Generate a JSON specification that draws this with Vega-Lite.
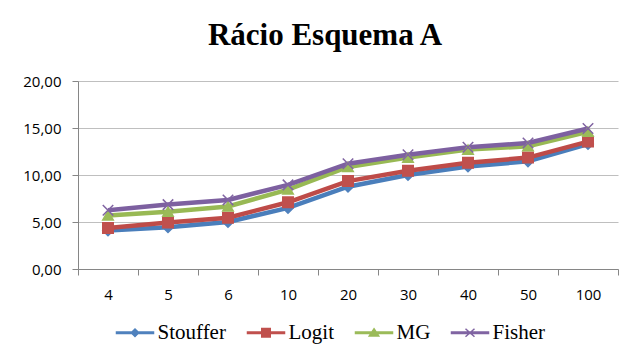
{
  "$schema": "https://vega.github.io/schema/vega-lite/v6.json",
  "width": 540,
  "height": 188,
  "autosize": {"type": "none"},
  "padding": {"left": 78, "top": 81, "right": 19, "bottom": 87},
  "background": "white",
  "config": {
    "view": {"stroke": null},
    "font": "Open Sans"
  },
  "title": {
    "text": "Rácio Esquema A",
    "font": "Liberation Serif",
    "fontSize": 31,
    "fontWeight": "bold",
    "color": "#000000",
    "anchor": "middle",
    "frame": "group",
    "dx": -23,
    "baseline": "alphabetic",
    "offset": -2
  },
  "data": {
    "values": [
      {"n": "4", "series": "Stouffer", "v": 4.1},
      {"n": "5", "series": "Stouffer", "v": 4.45},
      {"n": "6", "series": "Stouffer", "v": 5.0},
      {"n": "10", "series": "Stouffer", "v": 6.5},
      {"n": "20", "series": "Stouffer", "v": 8.75},
      {"n": "30", "series": "Stouffer", "v": 10.0},
      {"n": "40", "series": "Stouffer", "v": 10.9},
      {"n": "50", "series": "Stouffer", "v": 11.45},
      {"n": "100", "series": "Stouffer", "v": 13.3},
      {"n": "4", "series": "Logit", "v": 4.37},
      {"n": "5", "series": "Logit", "v": 4.95},
      {"n": "6", "series": "Logit", "v": 5.45},
      {"n": "10", "series": "Logit", "v": 7.1},
      {"n": "20", "series": "Logit", "v": 9.35},
      {"n": "30", "series": "Logit", "v": 10.45},
      {"n": "40", "series": "Logit", "v": 11.3},
      {"n": "50", "series": "Logit", "v": 11.85},
      {"n": "100", "series": "Logit", "v": 13.55},
      {"n": "4", "series": "MG", "v": 5.7},
      {"n": "5", "series": "MG", "v": 6.1},
      {"n": "6", "series": "MG", "v": 6.65},
      {"n": "10", "series": "MG", "v": 8.45},
      {"n": "20", "series": "MG", "v": 10.85},
      {"n": "30", "series": "MG", "v": 11.85},
      {"n": "40", "series": "MG", "v": 12.7},
      {"n": "50", "series": "MG", "v": 13.05},
      {"n": "100", "series": "MG", "v": 14.6},
      {"n": "4", "series": "Fisher", "v": 6.25},
      {"n": "5", "series": "Fisher", "v": 6.85},
      {"n": "6", "series": "Fisher", "v": 7.35},
      {"n": "10", "series": "Fisher", "v": 8.95},
      {"n": "20", "series": "Fisher", "v": 11.2},
      {"n": "30", "series": "Fisher", "v": 12.15},
      {"n": "40", "series": "Fisher", "v": 12.95},
      {"n": "50", "series": "Fisher", "v": 13.4},
      {"n": "100", "series": "Fisher", "v": 14.95}
    ]
  },
  "encoding": {
    "x": {
      "field": "n",
      "type": "ordinal",
      "sort": null,
      "scale": {"type": "band", "paddingInner": 0, "paddingOuter": 0},
      "axis": {
        "title": null,
        "labelAngle": 0,
        "tickBand": "extent",
        "domainColor": "#868686",
        "tickColor": "#868686",
        "tickSize": 6,
        "labelPadding": 12,
        "labelFont": "Open Sans",
        "labelFontSize": 15,
        "labelColor": "#000000",
        "grid": false
      }
    },
    "y": {
      "field": "v",
      "type": "quantitative",
      "scale": {"domain": [0, 20], "nice": false, "zero": true},
      "axis": {
        "title": null,
        "values": [0, 5, 10, 15, 20],
        "labelExpr": "replace(format(datum.value, '.2f'), '.', ',')",
        "domainColor": "#868686",
        "tickColor": "#868686",
        "tickSize": 6,
        "labelPadding": 11,
        "labelFont": "Open Sans",
        "labelFontSize": 15,
        "labelColor": "#000000",
        "gridColor": "#BFBFBF",
        "gridWidth": 1
      }
    }
  },
  "layer": [
    {
      "mark": {"type": "line", "strokeWidth": 4.5},
      "encoding": {
        "color": {
          "field": "series",
          "type": "nominal",
          "scale": {"domain": ["Stouffer", "Logit", "MG", "Fisher"], "range": ["#4A7EBB", "#BE4B48", "#98B954", "#7D60A0"]},
          "legend": null
        }
      }
    },
    {
      "mark": {"type": "point", "filled": true, "size": 110, "strokeWidth": 1.5, "opacity": 1},
      "encoding": {
        "fill": {
          "field": "series",
          "type": "nominal",
          "scale": {"domain": ["Stouffer", "Logit", "MG", "Fisher"], "range": ["#4F81BD", "#C0504D", "#9BBB59", "#8064A2"]},
          "legend": null
        },
        "stroke": {
          "field": "series",
          "type": "nominal",
          "scale": {"domain": ["Stouffer", "Logit", "MG", "Fisher"], "range": ["#4F81BD", "#C0504D", "#9BBB59", "#8064A2"]},
          "legend": null
        },
        "shape": {
          "field": "series",
          "type": "nominal",
          "scale": {"domain": ["Stouffer", "Logit", "MG", "Fisher"], "range": ["diamond", "square", "triangle-up", "M-1,-1L1,1M-1,1L1,-1"]},
          "legend": null
        }
      }
    },
    {
      "mark": {"type": "point", "filled": true, "size": 100, "strokeWidth": 1.5, "opacity": 0},
      "encoding": {
        "fill": {
          "field": "series",
          "type": "nominal",
          "scale": {"domain": ["Stouffer", "Logit", "MG", "Fisher"], "range": ["#4F81BD", "#C0504D", "#9BBB59", "#8064A2"]},
          "legend": {
            "title": null,
            "orient": "none",
            "legendX": 46.5,
            "legendY": 241,
            "direction": "horizontal",
            "columns": 4,
            "columnPadding": 18,
            "labelOffset": 12,
            "labelFont": "Liberation Serif",
            "labelFontSize": 21,
            "labelColor": "#000000",
            "symbolSize": 100,
            "symbolStrokeWidth": 1.5,
            "symbolOpacity": 1,
            "padding": 0
          }
        },
        "stroke": {
          "field": "series",
          "type": "nominal",
          "scale": {"domain": ["Stouffer", "Logit", "MG", "Fisher"], "range": ["#4F81BD", "#C0504D", "#9BBB59", "#8064A2"]},
          "legend": {
            "title": null,
            "orient": "none",
            "legendX": 46.5,
            "legendY": 241,
            "direction": "horizontal",
            "columns": 4,
            "columnPadding": 18,
            "labelOffset": 12,
            "labelFont": "Liberation Serif",
            "labelFontSize": 21,
            "labelColor": "#000000",
            "symbolSize": 100,
            "symbolStrokeWidth": 1.5,
            "symbolOpacity": 1,
            "padding": 0
          }
        },
        "shape": {
          "field": "series",
          "type": "nominal",
          "scale": {"domain": ["Stouffer", "Logit", "MG", "Fisher"], "range": [
            "M-3.7,-0.15H3.7V0.15H-3.7ZM0,-0.75L0.75,0L0,0.75L-0.75,0Z",
            "M-3.7,-0.15H3.7V0.15H-3.7ZM-0.85,-0.85H0.85V0.85H-0.85Z",
            "M-3.7,-0.15H3.7V0.15H-3.7ZM0,-0.8L0.95,0.65H-0.95Z",
            "M-3.7,-0.15H3.7V0.15H-3.7ZM-0.9,-0.8L0.9,0.8M-0.9,0.8L0.9,-0.8"
          ]},
          "legend": {
            "title": null,
            "orient": "none",
            "legendX": 46.5,
            "legendY": 241,
            "direction": "horizontal",
            "columns": 4,
            "columnPadding": 18,
            "labelOffset": 12,
            "labelFont": "Liberation Serif",
            "labelFontSize": 21,
            "labelColor": "#000000",
            "symbolSize": 100,
            "symbolStrokeWidth": 1.5,
            "symbolOpacity": 1,
            "padding": 0
          }
        }
      }
    }
  ],
  "resolve": {
    "scale": {"color": "independent", "fill": "independent", "stroke": "independent", "shape": "independent"}
  }
}
